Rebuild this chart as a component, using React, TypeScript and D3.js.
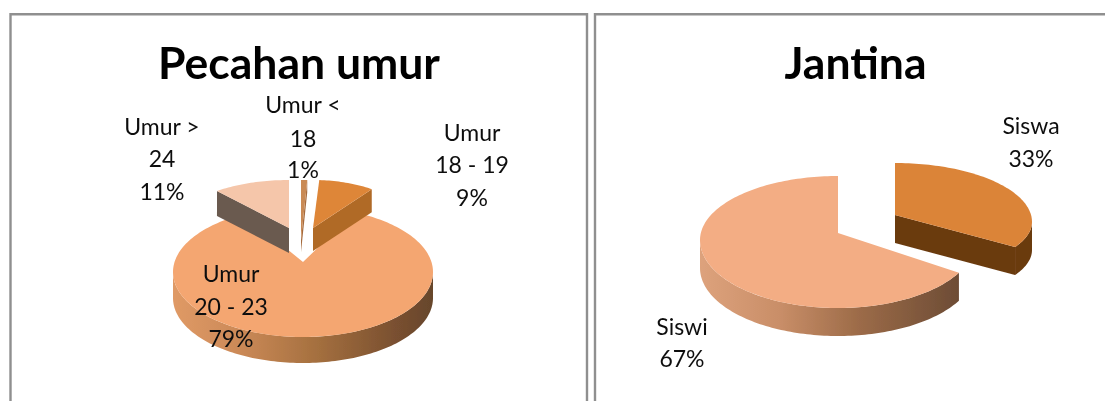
import React from "react";
import * as d3 from "d3";

const ageCategories = ["Umur < 18", "Umur 18 - 19", "Umur 20 - 23", "Umur > 24"];
const ageValues = [1, 9, 79, 11];
const genderCategories = ["Siswa", "Siswi"];
const genderValues = [33, 67];
const titles = ["Pecahan umur", "Jantina"];

type Shape = { ox: number; oy: number; cy: number; rx: number; back: number; front: number; depth: number; top: string; wall: string };

const pie = d3.pie<number>().sort(null).value((d) => d);
const line = d3.line<[number, number]>();

function pt(s: Shape, a: number, dy = 0): [number, number] {
  const c = Math.cos(a);
  return [s.ox + s.rx * Math.sin(a), s.cy - (c > 0 ? s.back : s.front) * c + dy];
}
function arcPts(s: Shape, a0: number, a1: number, dy = 0): [number, number][] {
  const n = Math.max(2, Math.ceil(Math.abs(a1 - a0) * 40));
  return d3.range(n + 1).map((i) => pt(s, a0 + ((a1 - a0) * i) / n, dy));
}

function Slice({ s, a0, a1, rim, edge }: { s: Shape; a0: number; a1: number; rim?: string; edge?: "start" | "end" }) {
  const lo = Math.max(a0, Math.PI / 2);
  const hi = Math.min(a1, (Math.PI * 3) / 2);
  const apex: [number, number] = [s.ox, s.oy];
  const apexLow: [number, number] = [s.ox, s.oy + s.depth];
  const e = edge === "start" ? a0 : a1;
  return (
    <g>
      {hi > lo && (
        <path d={line([...arcPts(s, lo, hi), ...arcPts(s, hi, lo, s.depth)]) + "Z"} fill={rim ?? s.wall} />
      )}
      {edge && <path d={line([apex, pt(s, e), pt(s, e, s.depth), apexLow]) + "Z"} fill={s.wall} />}
      <path d={line([apex, ...arcPts(s, a0, a1)]) + "Z"} fill={s.top} />
    </g>
  );
}

function Label({ x, ys, lines, size = 23 }: { x: number; ys: number[]; lines: string[]; size?: number }) {
  return (
    <text textAnchor="middle" fontSize={size} fill="#111" fontFamily="Lato, sans-serif">
      {lines.map((t, i) => (
        <tspan key={i} x={x} y={ys[i]}>{t}</tspan>
      ))}
    </text>
  );
}

export default function App() {
  const age = pie(ageValues);
  const gender = pie(genderValues);

  const main: Shape = { ox: 303, oy: 262, cy: 272, rx: 130, back: 65, front: 65, depth: 26, top: "#F4A671", wall: "#c08050" };
  const s0: Shape = { ox: 301, oy: 240, cy: 240, rx: 100, back: 60, front: 60, depth: 12, top: "#C98A55", wall: "#a56a3c" };
  const s1: Shape = { ox: 313, oy: 228, cy: 228, rx: 100, back: 48, front: 48, depth: 23, top: "#DE8639", wall: "#B06A26" };
  const s3: Shape = { ox: 289, oy: 228, cy: 228, rx: 113, back: 48, front: 48, depth: 25, top: "#F5C6AA", wall: "#6B5A4F" };
  const siswa: Shape = { ox: 895, oy: 215, cy: 222, rx: 137, back: 59, front: 52, depth: 28, top: "#DB8439", wall: "#6A3A10" };
  const siswi: Shape = { ox: 838, oy: 233, cy: 240, rx: 138, back: 64, front: 68, depth: 28, top: "#F3AD84", wall: "#c08050" };

  // The exploded slices sit on top of the main one; let it run under their walls.
  const tuck = 0.22;

  return (
    <svg width={1105} height={401} style={{ position: "absolute", left: 0, top: 0, background: "#fff" }}>
      <defs>
        <linearGradient id="rimL" gradientUnits="userSpaceOnUse" x1={172} x2={434} y1={0} y2={0}>
          <stop offset="0" stopColor="#E09A66" />
          <stop offset="0.25" stopColor="#CC8A58" />
          <stop offset="0.55" stopColor="#A5703F" />
          <stop offset="0.85" stopColor="#7A5030" />
          <stop offset="1" stopColor="#66462C" />
        </linearGradient>
        <linearGradient id="rimR" gradientUnits="userSpaceOnUse" x1={700} x2={965} y1={0} y2={0}>
          <stop offset="0" stopColor="#DDA27C" />
          <stop offset="0.3" stopColor="#C98E68" />
          <stop offset="0.6" stopColor="#9C6B48" />
          <stop offset="1" stopColor="#6A4A34" />
        </linearGradient>
        <filter id="soft" x="-5%" y="-5%" width="110%" height="110%">
          <feGaussianBlur stdDeviation="0.6" />
        </filter>
        <filter id="softText" x="-5%" y="-5%" width="110%" height="110%">
          <feGaussianBlur stdDeviation="0.3" />
        </filter>
      </defs>

      <g fill="none" stroke="#8F8F8F" strokeWidth={2.4}>
        <path d="M10.5 401V14.2H587V401" />
        <path d="M595 401V14.2H1105" />
      </g>

      <g filter="url(#soft)">
        <Slice s={main} a0={age[2].startAngle - tuck} a1={age[2].endAngle + tuck} rim="url(#rimL)" />
        <Slice s={s3} a0={age[3].startAngle} a1={age[3].endAngle} edge="start" />
        <Slice s={s0} a0={age[0].startAngle} a1={age[0].endAngle} edge="end" />
        <Slice s={s1} a0={age[1].startAngle} a1={age[1].endAngle} edge="end" />
        <Slice s={siswi} a0={gender[1].startAngle} a1={gender[1].endAngle} rim="url(#rimR)" />
        <Slice s={siswa} a0={gender[0].startAngle} a1={gender[0].endAngle} edge="end" />
      </g>

      <g filter="url(#softText)">
        <text x={299} y={79} textAnchor="middle" fontSize={44.5} fontWeight={700} fill="#000" fontFamily="Lato, sans-serif">{titles[0]}</text>
        <text x={855.5} y={79} textAnchor="middle" fontSize={44.5} fontWeight={700} fill="#000" fontFamily="Lato, sans-serif">{titles[1]}</text>

        <Label x={303} ys={[113, 147, 178]} lines={["Umur <", "18", `${ageValues[0]}%`]} />
        <Label x={472} ys={[141, 173, 206]} lines={["Umur", "18 - 19", `${ageValues[1]}%`]} />
        <Label x={231} ys={[282, 315, 347]} lines={["Umur", "20 - 23", `${ageValues[2]}%`]} />
        <Label x={162} ys={[135, 167, 200]} lines={["Umur >", "24", `${ageValues[3]}%`]} />
        <Label x={1031} ys={[134, 167]} lines={[genderCategories[0], `${genderValues[0]}%`]} />
        <Label x={682} ys={[335, 367]} lines={[genderCategories[1], `${genderValues[1]}%`]} />
      </g>
    </svg>
  );
}
